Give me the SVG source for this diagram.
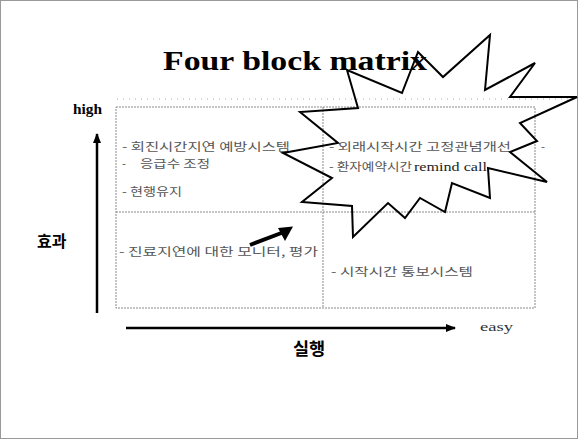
<svg xmlns="http://www.w3.org/2000/svg" width="578" height="439" viewBox="0 0 578 439">
<style>
.grid{fill:none;stroke:#8a8a8a;stroke-width:1;stroke-dasharray:2 1}
.faint{fill:none;stroke:#b0b0b0;stroke-width:1;stroke-dasharray:1 5}
.kr{font-family:"Noto Sans CJK KR","Noto Sans",sans-serif;font-size:11.5px;fill:#555}
.ser{font-family:"Liberation Serif",serif}
.axis{stroke:#000;stroke-width:2.5;fill:none}
</style>
<defs>
<marker id="ah" markerWidth="10" markerHeight="8" refX="9" refY="4" orient="auto" markerUnits="userSpaceOnUse">
<path d="M0,0 L10,4 L0,8 Z" fill="#000"/>
</marker>
</defs>
<rect x="0.5" y="0.5" width="577" height="438" fill="#fff" stroke="#999" stroke-width="1"/>
<g id="title">
<text class="ser" x="163" y="70" font-size="28" font-weight="bold" fill="#000" textLength="264" lengthAdjust="spacingAndGlyphs">Four block matrix</text>
</g>
<g id="matrix">
<line class="faint" x1="117" y1="99" x2="577" y2="99"/>
<rect class="grid" x="116" y="107" width="419" height="201"/>
<line class="grid" x1="323" y1="107" x2="323" y2="308"/>
<line class="grid" x1="116" y1="212" x2="535" y2="212"/>
</g>
<g id="quadrant-tl">
<text class="kr" x="122" y="150.5" textLength="168" lengthAdjust="spacingAndGlyphs">- 회진시간지연 예방시스템</text>
<text class="kr" x="122" y="168">-</text>
<text class="kr" x="140" y="168" textLength="70" lengthAdjust="spacingAndGlyphs">응급수 조정</text>
<text class="kr" x="122" y="196" textLength="60" lengthAdjust="spacingAndGlyphs">- 현행유지</text>
</g>
<g id="quadrant-tr">
<text class="kr" x="329" y="150.5" textLength="182" lengthAdjust="spacingAndGlyphs">- 외래시작시간 고정관념개선</text>
<text class="kr" x="541" y="150.5">-</text>
<text class="kr" x="329" y="171" textLength="83" lengthAdjust="spacingAndGlyphs">- 환자예약시간</text>
<text class="ser" x="414" y="171" font-size="13" fill="#222" textLength="73" lengthAdjust="spacingAndGlyphs">remind call</text>
</g>
<g id="quadrant-bl">
<text class="kr" x="119" y="256" textLength="199" lengthAdjust="spacingAndGlyphs">- 진료지연에 대한 모니터, 평가</text>
</g>
<g id="quadrant-br">
<text class="kr" x="331" y="276" textLength="142" lengthAdjust="spacingAndGlyphs">- 시작시간 통보시스템</text>
</g>
<g id="starburst">
<polygon points="300,112 338,143 283,153 332,178 302,202 352,206 353,237 388,203 405,218 420,198 445,212 452,183 490,198 488,168 547,182 510,152 537,141 520,123 577,97 510,97 535,63 485,90 490,35 443,77 418,52 402,93 347,70 358,108" fill="none" stroke="#000" stroke-width="2" stroke-linejoin="miter"/>
</g>
<g id="connectors">
<line class="axis" x1="97" y1="313" x2="97" y2="134" marker-end="url(#ah)"/>
<line class="axis" x1="126" y1="328" x2="455" y2="328" marker-end="url(#ah)"/>
<line x1="250" y1="245" x2="284" y2="232" stroke="#000" stroke-width="4"/>
<polygon points="293,226.5 278,228 285,241" fill="#000"/>
</g>
<g id="labels">
<text class="ser" x="73" y="114" font-size="14" font-weight="bold" fill="#000" textLength="29" lengthAdjust="spacingAndGlyphs">high</text>
<text class="ser" x="480" y="331" font-size="12" fill="#333" textLength="33" lengthAdjust="spacingAndGlyphs">easy</text>
<text x="37" y="247" font-family="Noto Sans CJK KR, sans-serif" font-size="16" font-weight="bold" fill="#000">효과</text>
<text x="293" y="355" font-family="Noto Sans CJK KR, sans-serif" font-size="17.5" font-weight="bold" fill="#000">실행</text>
</g>
</svg>
